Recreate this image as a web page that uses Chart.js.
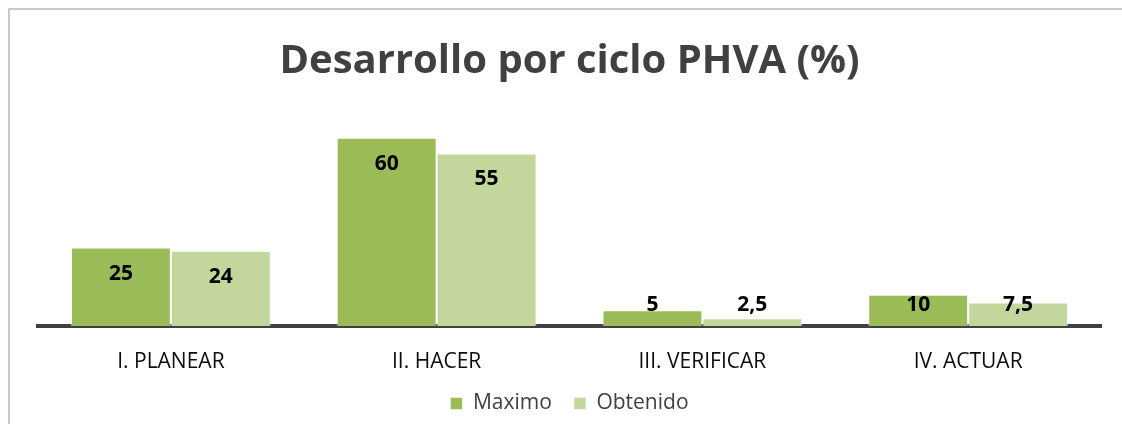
<!DOCTYPE html>
<html>
<head>
<meta charset="utf-8">
<script src="https://cdn.jsdelivr.net/npm/chart.js@4.4.1/dist/chart.umd.min.js"></script>
<style>
  html, body { margin: 0; padding: 0; background: #ffffff; overflow: hidden; }
  canvas { display: block; }
</style>
</head>
<body>
<canvas id="c" width="1122" height="424"></canvas>
<script>
const titleText = 'Desarrollo por ciclo PHVA (%)';
const categories = ['I. PLANEAR', 'II. HACER', 'III. VERIFICAR', 'IV. ACTUAR'];
const seriesNames = ['Maximo', 'Obtenido'];
const maximoValues = [25, 60, 5, 10];
const obtenidoValues = [24, 55, 2.5, 7.5];
const colors = ['#9BBB59', '#C3D69B'];

const fontFamily = '"Open Sans", "Noto Sans", sans-serif';

const frameBorder = {
  id: 'frameBorder',
  beforeDraw(chart) {
    const ctx = chart.ctx;
    ctx.save();
    ctx.strokeStyle = '#c8c8c8';
    ctx.lineWidth = 2;
    ctx.beginPath();
    ctx.moveTo(9, chart.height);
    ctx.lineTo(9, 9);
    ctx.lineTo(chart.width, 9);
    ctx.stroke();
    ctx.restore();
  }
};

const valueLabels = {
  id: 'valueLabels',
  afterDatasetsDraw(chart) {
    const ctx = chart.ctx;
    const base = chart.chartArea.bottom;
    ctx.save();
    ctx.font = 'bold 21px ' + fontFamily;
    ctx.fillStyle = '#000000';
    ctx.textAlign = 'center';
    ctx.textBaseline = 'middle';
    chart.data.datasets.forEach((ds, di) => {
      const meta = chart.getDatasetMeta(di);
      meta.data.forEach((bar, i) => {
        const v = ds.data[i];
        const y = Math.min(bar.y + 26, base - 21);
        ctx.fillText(String(v).replace('.', ','), bar.x, y);
      });
    });
    ctx.restore();
  }
};

new Chart(document.getElementById('c'), {
  type: 'bar',
  data: {
    labels: categories,
    datasets: [
      { label: seriesNames[0], data: maximoValues, backgroundColor: colors[0],
        borderColor: 'rgba(255,255,255,0.5)', borderWidth: 1, borderSkipped: 'bottom' },
      { label: seriesNames[1], data: obtenidoValues, backgroundColor: colors[1],
        borderColor: 'rgba(255,255,255,0.5)', borderWidth: 1, borderSkipped: 'bottom' }
    ]
  },
  options: {
    responsive: false,
    animation: false,
    devicePixelRatio: 1,
    layout: { padding: { left: 38, right: 21, top: 0, bottom: 0 } },
    datasets: { bar: { categoryPercentage: 0.752, barPercentage: 1.0 } },
    scales: {
      x: {
        grid: { display: false, drawTicks: false },
        border: { display: true, color: '#404040', width: 4 },
        ticks: { color: '#0d0d0d', padding: 23.5,
                 font: { family: fontFamily, size: 21, lineHeight: 1.2 } },
        afterFit: (scale) => { scale.height = 45; }
      },
      y: { display: false, min: 0, max: 69.5 }
    },
    plugins: {
      title: {
        display: true, text: titleText, color: '#404040',
        font: { family: fontFamily, size: 40, weight: 'bold', lineHeight: 1.2 },
        padding: { top: 38, bottom: 22 }
      },
      legend: {
        position: 'bottom',
        labels: { color: '#404040', boxWidth: 12, boxHeight: 12, padding: 22,
                  font: { family: fontFamily, size: 21 } }
      },
      tooltip: { enabled: false }
    }
  },
  plugins: [frameBorder, valueLabels]
});
</script>
</body>
</html>
